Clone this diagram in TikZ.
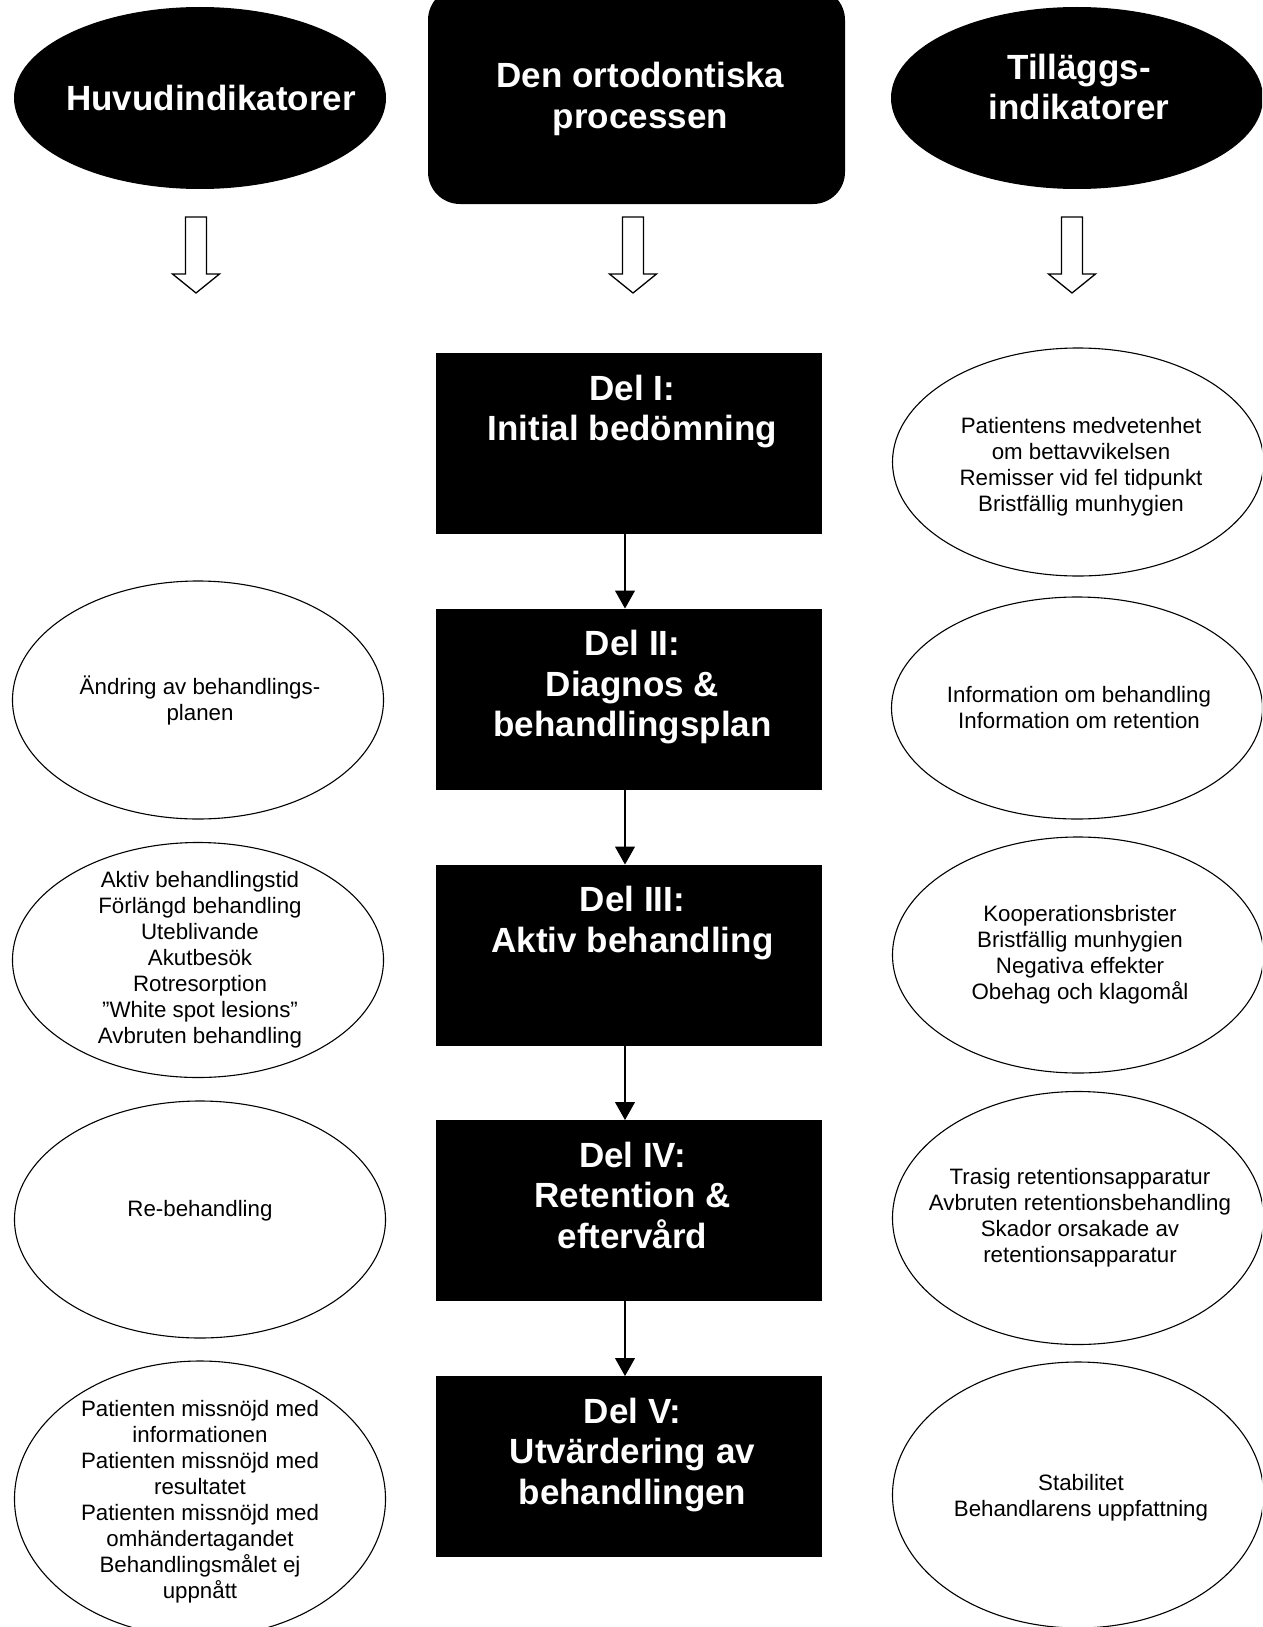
\documentclass[tikz,border=0pt]{standalone}
\usepackage{fontspec}
\setmainfont{Liberation Sans}
\usetikzlibrary{shapes.geometric,arrows.meta,positioning}

\tikzset{
  hdroval/.style={ellipse, fill=black, minimum width=372pt, minimum height=182pt, inner sep=0pt},
  hdrbox/.style={rectangle, fill=black, rounded corners=32pt, minimum width=417pt, minimum height=216pt, inner sep=0pt},
  hdrtext/.style={text=white, font=\fontsize{35}{40.5}\selectfont\bfseries, align=center, inner sep=0pt},
  bubble/.style={ellipse, draw=black, line width=1.1pt, fill=white, minimum width=371pt, inner sep=0pt},
  bubbletext/.style={font=\fontsize{22.3}{26}\selectfont, align=center, inner sep=0pt},
  delbox/.style={rectangle, fill=black, minimum width=386pt, minimum height=181pt, inner sep=0pt, outer sep=0pt},
  deltitle/.style={text=white, font=\fontsize{35}{40.5}\selectfont\bfseries, align=center, inner sep=0pt, outer sep=0pt, xshift=3.5pt},
  flow/.style={line width=1.1pt, -{Triangle[length=18pt,width=20pt]}},
  hollow/.style={draw=black, fill=white, line width=1.3pt, line join=miter}
}

\begin{document}
\begin{tikzpicture}[x=1pt,y=-1pt]
  \useasboundingbox (0,0) rectangle (1262,1627);
  \clip (0,0) rectangle (1262,1627);

  % header row
  \node[hdroval] (huvud) at (200,98) {};
  \node[hdrtext] (huvudt) at ([xshift=11pt]huvud.center) {Huvudindikatorer};
  \node[hdrbox] (proc) at (636.5,96) {};
  \node[hdrtext] (proct) at ([xshift=4pt,yshift=-3pt]proc.center) {Den ortodontiska\\processen};
  \node[hdroval] (tillagg) at (1077,98) {};
  \node[hdrtext] (tillaggt) at ([xshift=2pt,yshift=11pt]tillagg.center) {Tilläggs-\\indikatorer};

  % hollow arrows under the headers
  \foreach \x in {196,633,1072}
    \draw[hollow] (\x-10.5,217) -- (\x+10.5,217) -- (\x+10.5,274) -- (\x+23.5,274)
      -- (\x,293) -- (\x-23.5,274) -- (\x-10.5,274) -- cycle;

  % the five parts
  \node[delbox] (del1) at (629,443.5) {};
  \node[deltitle, below=22pt of del1.north] (del1t) {Del I:\\Initial bedömning};
  \node[delbox] (del2) at (629,699) {};
  \node[deltitle, below=22pt of del2.north] (del2t) {Del II:\\Diagnos \&\\behandlingsplan};
  \node[delbox] (del3) at (629,955) {};
  \node[deltitle, below=22pt of del3.north] (del3t) {Del III:\\Aktiv behandling};
  \node[delbox] (del4) at (629,1210.5) {};
  \node[deltitle, below=22pt of del4.north] (del4t) {Del IV:\\Retention \&\\eftervård};
  \node[delbox] (del5) at (629,1466.5) {};
  \node[deltitle, below=22pt of del5.north] (del5t) {Del V:\\Utvärdering av\\behandlingen};

  \foreach \a/\b in {del1/del2,del2/del3,del3/del4,del4/del5}
    \draw[flow] ([xshift=-4pt]\a.south) -- ([xshift=-4pt]\b.north);

  % main indicators (left)
  \node[bubble, minimum height=238pt] (huv1) at (198,700) {};
  \node[bubbletext] (huv1t) at ([xshift=2pt]huv1.center) {Ändring av behandlings-\\planen};
  \node[bubble, minimum height=235pt] (huv2) at (198,960) {};
  \node[bubbletext] (huv2t) at ([xshift=2pt]huv2.center) {Aktiv behandlingstid\\Förlängd behandling\\Uteblivande\\Akutbesök\\Rotresorption\\”White spot lesions”\\Avbruten behandling};
  \node[bubble, minimum height=237pt] (huv3) at (200,1219.5) {};
  \node[bubbletext] (huv3t) at ([yshift=9pt]huv3.center) {Re-behandling};
  \node[bubble, minimum height=276pt] (huv4) at (200,1499) {};
  \node[bubbletext] (huv4t) at ([yshift=-3pt]huv4.center) {Patienten missnöjd med\\informationen\\Patienten missnöjd med\\resultatet\\Patienten missnöjd med\\omhändertagandet\\Behandlingsmålet ej\\uppnått};

  % additional indicators (right)
  \node[bubble, minimum height=228pt] (till1) at (1078,462) {};
  \node[bubbletext] (till1t) at ([xshift=3pt,yshift=-5pt]till1.center) {Patientens medvetenhet\\om bettavvikelsen\\Remisser vid fel tidpunkt\\Bristfällig munhygien};
  \node[bubble, minimum height=222pt] (till2) at (1077,708) {};
  \node[bubbletext] (till2t) at ([xshift=2pt]till2.center) {Information om behandling\\Information om retention};
  \node[bubble, minimum height=236pt] (till3) at (1078,955) {};
  \node[bubbletext] (till3t) at ([xshift=2pt]till3.center) {Kooperationsbrister\\Bristfällig munhygien\\Negativa effekter\\Obehag och klagomål};
  \node[bubble, minimum height=253pt] (till4) at (1078,1218) {};
  \node[bubbletext] (till4t) at ([xshift=2pt]till4.center) {Trasig retentionsapparatur\\Avbruten retentionsbehandling\\Skador orsakade av\\retentionsapparatur};
  \node[bubble, minimum height=266pt] (till5) at (1078,1495) {};
  \node[bubbletext] (till5t) at ([xshift=3pt,yshift=-3pt]till5.center) {Stabilitet\\Behandlarens uppfattning};
\end{tikzpicture}
\end{document}
